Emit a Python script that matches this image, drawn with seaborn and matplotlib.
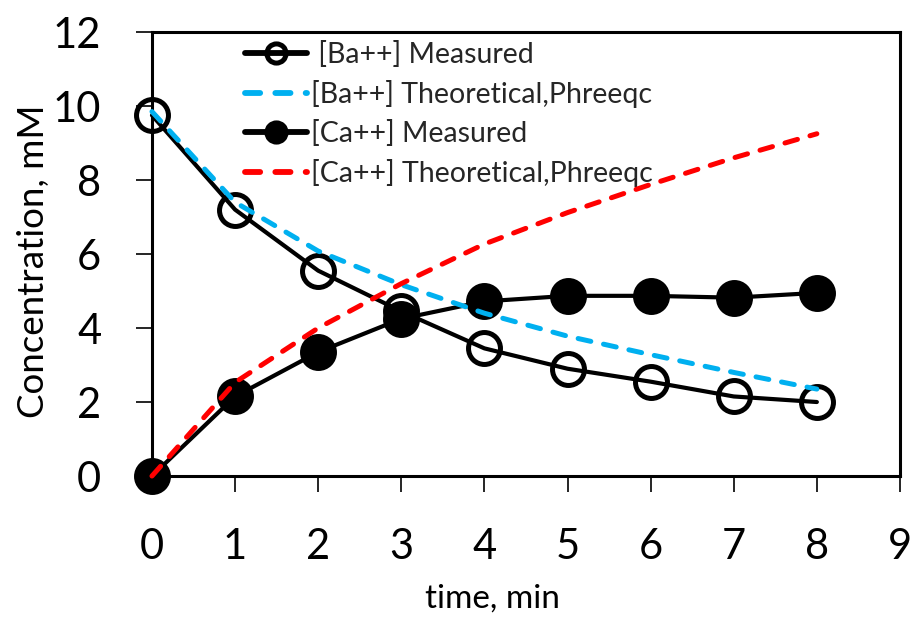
import matplotlib
matplotlib.use("Agg")
import matplotlib.pyplot as plt
import seaborn as sns
import pandas as pd

# ---- data ----
time_min = [0, 1, 2, 3, 4, 5, 6, 7, 8]
ba_measured = [9.75, 7.2, 5.55, 4.45, 3.45, 2.9, 2.55, 2.15, 2.0]
ca_measured = [0.0, 2.15, 3.35, 4.25, 4.72, 4.87, 4.87, 4.82, 4.95]
ba_theoretical = [9.85, 7.4, 6.08, 5.17, 4.4, 3.78, 3.28, 2.8, 2.35]
ca_theoretical = [0.0, 2.53, 4.0, 5.2, 6.27, 7.12, 7.88, 8.6, 9.25]

labels = [" [Ba++] Measured", "[Ba++] Theoretical,Phreeqc",
          "[Ca++] Measured", "[Ca++] Theoretical,Phreeqc"]
x_ticks = [0, 1, 2, 3, 4, 5, 6, 7, 8, 9]
y_ticks = [0, 2, 4, 6, 8, 10, 12]

sns.set_theme(style="white")
plt.rcParams["font.family"] = ["Lato", "DejaVu Sans"]

fig = plt.figure(figsize=(9.16, 6.17), dpi=100)
ax = fig.add_axes([0.1659, 0.2285, 0.8166, 0.7196])

df = pd.DataFrame({"t": time_min, "ba_m": ba_measured, "ca_m": ca_measured,
                   "ba_t": ba_theoretical, "ca_t": ca_theoretical})

sns.lineplot(data=df, x="t", y="ba_m", ax=ax, color="black", lw=3.0,
             marker="o", markersize=23, markerfacecolor="none",
             markeredgecolor="black", markeredgewidth=3.6,
             label=labels[0], clip_on=False, zorder=3)
sns.lineplot(data=df, x="t", y="ba_t", ax=ax, color="#00B0F0", lw=3.6,
             label=labels[1], clip_on=False, zorder=5)
sns.lineplot(data=df, x="t", y="ca_m", ax=ax, color="black", lw=3.0,
             marker="o", markersize=23, markerfacecolor="black",
             markeredgecolor="black", markeredgewidth=3.6,
             label=labels[2], clip_on=False, zorder=4)
sns.lineplot(data=df, x="t", y="ca_t", ax=ax, color="#FF0000", lw=3.6,
             label=labels[3], clip_on=False, zorder=6)

lines = ax.get_lines()
for i in (1, 3):
    lines[i].set_linestyle((0, (2.6, 2.6)))
    lines[i].set_dash_capstyle("round")

ax.set_xlim(0, 9)
ax.set_ylim(0, 12)
ax.set_xticks(x_ticks)
ax.set_yticks(y_ticks)
ax.tick_params(axis="both", direction="out", length=11.5, width=1.2,
               labelsize=30, colors="black", bottom=True, left=True)
ax.tick_params(axis="x", pad=26)
ax.tick_params(axis="y", pad=25)
for s in ax.spines.values():
    s.set_color("black")
    s.set_linewidth(2.2)

ax.set_xlabel("time, min", fontsize=24, color="black")
ax.set_ylabel("Concentration, mM", fontsize=26.5, color="black")
ax.xaxis.set_label_coords(0.455, -0.243)
ax.yaxis.set_label_coords(-0.136, 0.484)

leg = ax.legend(loc="upper left", bbox_to_anchor=(0.125, 0.98), frameon=False,
                fontsize=20.5, markerscale=0.6, handlelength=2.15,
                handletextpad=0.15, labelspacing=0.42, borderpad=0,
                borderaxespad=0)
for h in leg.get_lines():
    h.set_linewidth(4.2)

fig.savefig("out.png", dpi=100)
